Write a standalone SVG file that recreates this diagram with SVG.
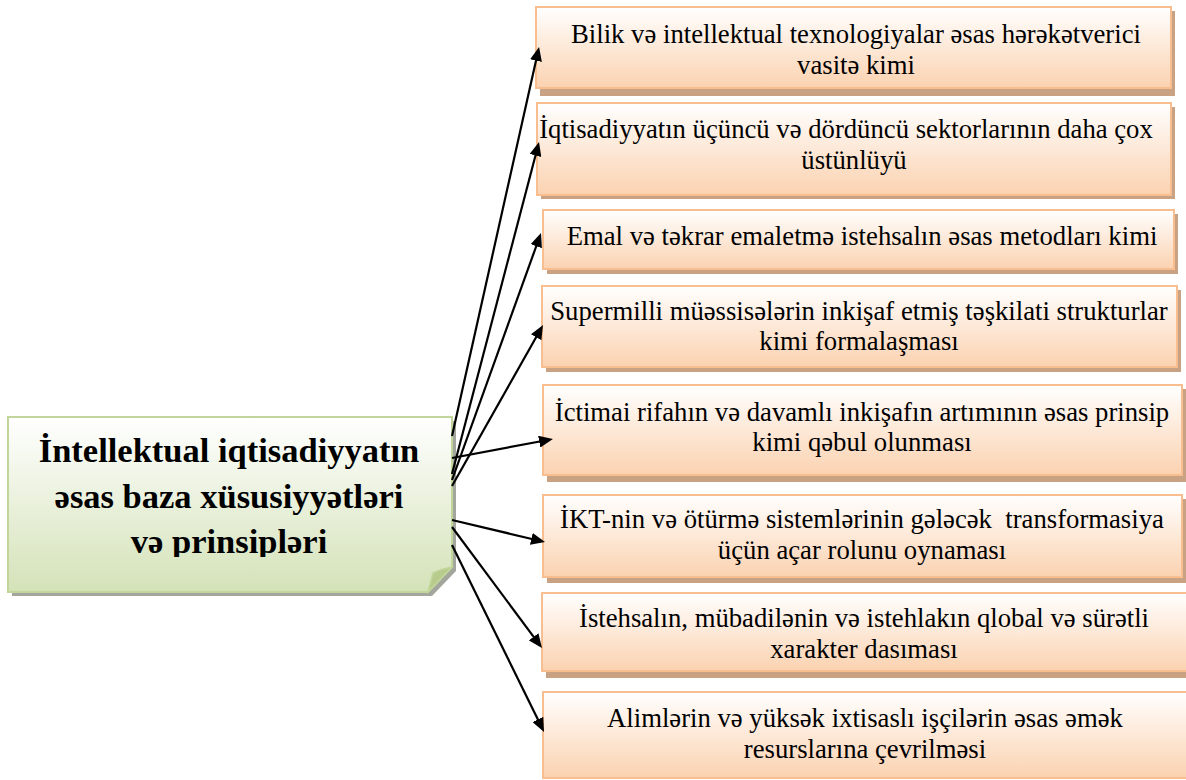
<svg xmlns="http://www.w3.org/2000/svg" width="1186" height="780" viewBox="0 0 1186 780">
<style>
.box{fill:url(#peach);stroke:#f9be8f;stroke-width:2}
.sh{fill:#c9a283}
.t{font-family:"Liberation Serif","Times New Roman",serif;font-size:26.7px;fill:#000;text-anchor:middle}
.mt{font-family:"Liberation Serif","Times New Roman",serif;font-size:34.5px;font-weight:bold;fill:#000;text-anchor:middle}
.c{stroke:#000;stroke-width:2.2;fill:none;marker-end:url(#ah)}
</style>
<defs>
<linearGradient id="peach" x1="0" y1="0" x2="0" y2="1">
<stop offset="0" stop-color="#ffffff"/>
<stop offset="1" stop-color="#fbd2b0"/>
</linearGradient>
<linearGradient id="green" x1="0" y1="0" x2="0" y2="1">
<stop offset="0" stop-color="#ffffff"/>
<stop offset="1" stop-color="#d4e2b8"/>
</linearGradient>
<marker id="ah" markerUnits="userSpaceOnUse" markerWidth="14" markerHeight="12" refX="6" refY="6" orient="auto">
<path d="M0,0 L14,6 L0,12 Z" fill="#000"/>
</marker>
<clipPath id="mclip"><rect x="8" y="417" width="444" height="140"/></clipPath>
</defs>
<rect width="1186" height="780" fill="#fff"/>

<g id="main">
<path d="M12,421 H456 V571 L432,596 H12 Z" fill="#a3a69c"/>
<path d="M8,417 H452 V567 L428,592 H8 Z" fill="url(#green)" stroke="#c2d69b" stroke-width="2"/>
<path d="M428,592 L433,573 Q441,569 452,567 Z" fill="#b7cc8c" stroke="#c2d69b" stroke-width="1.5"/>
<g clip-path="url(#mclip)">
<text class="mt" x="229" y="462">İntellektual iqtisadiyyatın</text>
<text class="mt" x="229" y="508">əsas baza xüsusiyyətləri</text>
<text class="mt" x="229" y="553">və prinsipləri</text>
</g>
</g>

<g id="n1">
<rect class="sh" x="540" y="11" width="635" height="85"/>
<rect class="box" x="536" y="7" width="635" height="81"/>
<text class="t" x="856" y="43">Bilik və intellektual texnologiyalar əsas hərəkətverici</text>
<text class="t" x="856" y="73.5">vasitə kimi</text>
</g>
<g id="n2">
<rect class="sh" x="541" y="107" width="634" height="92"/>
<rect class="box" x="537" y="103" width="634" height="92"/>
<text class="t" x="846" y="138">İqtisadiyyatın üçüncü və dördüncü sektorlarının daha çox</text>
<text class="t" x="854" y="169">üstünlüyü</text>
</g>
<g id="n3">
<rect class="sh" x="547" y="214" width="631" height="60"/>
<rect class="box" x="543" y="210" width="631" height="59"/>
<text class="t" x="862" y="245">Emal və təkrar emaletmə istehsalın əsas metodları kimi</text>
</g>
<g id="n4">
<rect class="sh" x="546" y="290" width="635" height="82"/>
<rect class="box" x="542" y="286" width="635" height="81"/>
<text class="t" x="859" y="320">Supermilli müəssisələrin inkişaf etmiş təşkilati strukturlar</text>
<text class="t" x="859" y="350">kimi formalaşması</text>
</g>
<g id="n5">
<rect class="sh" x="547" y="389" width="639" height="93"/>
<rect class="box" x="543" y="385" width="639" height="90"/>
<text class="t" x="862" y="421">İctimai rifahın və davamlı inkişafın artımının əsas prinsip</text>
<text class="t" x="862" y="451">kimi qəbul olunması</text>
</g>
<g id="n6">
<rect class="sh" x="547" y="499" width="639" height="84"/>
<rect class="box" x="543" y="495" width="639" height="82"/>
<text class="t" x="862" y="528" style="white-space:pre" xml:space="preserve">İKT-nin və ötürmə sistemlərinin gələcək  transformasiya</text>
<text class="t" x="862" y="559">üçün açar rolunu oynaması</text>
</g>
<g id="n7">
<rect class="sh" x="546" y="597" width="644" height="81"/>
<rect class="box" x="542" y="593" width="648" height="78"/>
<text class="t" x="864" y="627">İstehsalın, mübadilənin və istehlakın qlobal və sürətli</text>
<text class="t" x="864" y="658">xarakter dasıması</text>
</g>
<g id="n8">
<rect class="box" x="543" y="692" width="648" height="86"/>
<text class="t" x="865" y="727">Alimlərin və yüksək ixtisaslı işçilərin əsas əmək</text>
<text class="t" x="865" y="758">resurslarına çevrilməsi</text>
</g>

<g id="connectors">
<line class="c" x1="452" y1="436" x2="537.3" y2="54.8"/>
<line class="c" x1="452" y1="474" x2="537.0" y2="149.7"/>
<line class="c" x1="452" y1="480" x2="538.3" y2="240.5"/>
<line class="c" x1="452" y1="486" x2="539.1" y2="332.0"/>
<line class="c" x1="452" y1="458" x2="545.1" y2="440.5"/>
<line class="c" x1="452" y1="520" x2="537.2" y2="540.2"/>
<line class="c" x1="452" y1="527" x2="537.2" y2="641.6"/>
<line class="c" x1="452" y1="545" x2="540.5" y2="724.8"/>
</g>
</svg>
